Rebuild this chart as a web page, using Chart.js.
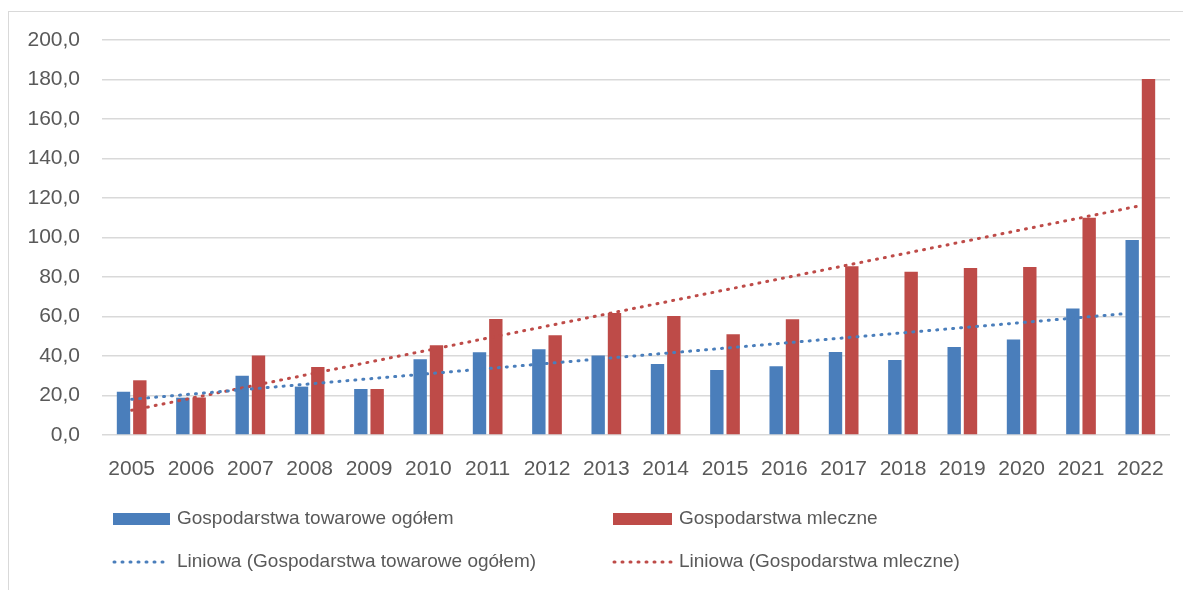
<!DOCTYPE html>
<html>
<head>
<meta charset="utf-8">
<script src="https://cdn.jsdelivr.net/npm/chart.js@4/dist/chart.umd.min.js"></script>
<style>
  body { margin: 0; background: #fff; }
</style>
</head>
<body>
<canvas id="wykres" width="1183" height="590"></canvas>
<script>
const lata = ['2005', '2006', '2007', '2008', '2009', '2010', '2011', '2012', '2013',
              '2014', '2015', '2016', '2017', '2018', '2019', '2020', '2021', '2022'];
const towarowe = [21.9, 18.9, 30.0, 24.5, 23.3, 38.3, 41.9, 43.4, 40.3,
                  35.9, 32.9, 34.8, 42.0, 38.0, 44.6, 48.4, 64.1, 98.7];
const mleczne = [27.7, 19.0, 40.3, 34.4, 23.3, 45.4, 58.7, 50.5, 61.8,
                 60.3, 51.0, 58.6, 85.4, 82.7, 84.6, 85.1, 110.0, 180.3];
// trend lines (start 2005, end 2022)
const trendTowarowe = [18.1, 62.1];
const trendMleczne = [12.5, 116.1];

const NIEBIESKI = '#4a7ebb';
const CZERWONY = '#be4b48';
const TEKST = '#595959';
const KROPKI = [1, 7];

Chart.defaults.font.family = "'Liberation Sans', Arial, sans-serif";
Chart.defaults.color = TEKST;

// ramka i legenda rysowane recznie
const ramka = {
    id: 'ramka',
    beforeDraw(chart) {
        const c = chart.ctx;
        c.save();
        c.fillStyle = '#fff';
        c.fillRect(0, 0, chart.width, chart.height);
        c.strokeStyle = '#d9d9d9';
        c.lineWidth = 1;
        c.strokeRect(8.5, 11.5, 1200, 600);
        c.restore();
    },
    afterDraw(chart) {
        const c = chart.ctx;
        const ds = chart.data.datasets;
        c.save();
        c.font = "19px 'Liberation Sans', Arial, sans-serif";
        c.textBaseline = 'middle';
        const pozycje = [
            { x: 113, y: 519, w: 57 },
            { x: 613, y: 519, w: 59 },
            { x: 113, y: 562, w: 57 },
            { x: 613, y: 562, w: 59 }
        ];
        ds.forEach((d, i) => {
            const p = pozycje[i];
            if (d.type === 'bar') {
                c.fillStyle = d.backgroundColor;
                c.fillRect(p.x, p.y - 6, p.w, 12);
            } else {
                c.strokeStyle = d.borderColor;
                c.lineWidth = 3;
                c.lineCap = 'round';
                c.setLineDash(KROPKI);
                c.beginPath();
                c.moveTo(p.x + 1, p.y);
                c.lineTo(p.x + p.w, p.y);
                c.stroke();
                c.setLineDash([]);
            }
            c.fillStyle = TEKST;
            c.fillText(d.label, p.x + p.w + 7, p.y);
        });
        c.restore();
    }
};

new Chart(document.getElementById('wykres'), {
    type: 'bar',
    data: {
        labels: lata,
        datasets: [
            {
                type: 'bar',
                label: 'Gospodarstwa towarowe ogółem',
                data: towarowe,
                backgroundColor: NIEBIESKI,
                order: 2
            },
            {
                type: 'bar',
                label: 'Gospodarstwa mleczne',
                data: mleczne,
                backgroundColor: CZERWONY,
                order: 2
            },
            {
                type: 'line',
                label: 'Liniowa (Gospodarstwa towarowe ogółem)',
                data: [{ x: lata[0], y: trendTowarowe[0] }, { x: lata[lata.length - 1], y: trendTowarowe[1] }],
                borderColor: NIEBIESKI,
                borderWidth: 3,
                borderDash: KROPKI,
                borderCapStyle: 'round',
                pointRadius: 0,
                order: 1
            },
            {
                type: 'line',
                label: 'Liniowa (Gospodarstwa mleczne)',
                data: [{ x: lata[0], y: trendMleczne[0] }, { x: lata[lata.length - 1], y: trendMleczne[1] }],
                borderColor: CZERWONY,
                borderWidth: 3,
                borderDash: KROPKI,
                borderCapStyle: 'round',
                pointRadius: 0,
                order: 1
            }
        ]
    },
    options: {
        responsive: false,
        animation: false,
        categoryPercentage: 0.55,
        barPercentage: 0.82,
        layout: { padding: { top: 40, right: 13, left: 0, bottom: 0 } },
        plugins: {
            legend: { display: false },
            tooltip: { enabled: false }
        },
        scales: {
            x: {
                grid: { display: false },
                border: { display: false },
                ticks: { font: { size: 21 }, color: TEKST, padding: 14, maxRotation: 0 },
                afterFit: s => { s.height = 155; }
            },
            y: {
                min: 0,
                max: 200,
                grid: { color: '#d9d9d9', lineWidth: 1.5, drawTicks: false },
                border: { display: false },
                ticks: {
                    stepSize: 20,
                    font: { size: 21 },
                    color: TEKST,
                    padding: 22,
                    callback: v => v.toFixed(1).replace('.', ',')
                },
                afterFit: s => { s.width = 102; }
            }
        }
    },
    plugins: [ramka]
});
</script>
</body>
</html>
